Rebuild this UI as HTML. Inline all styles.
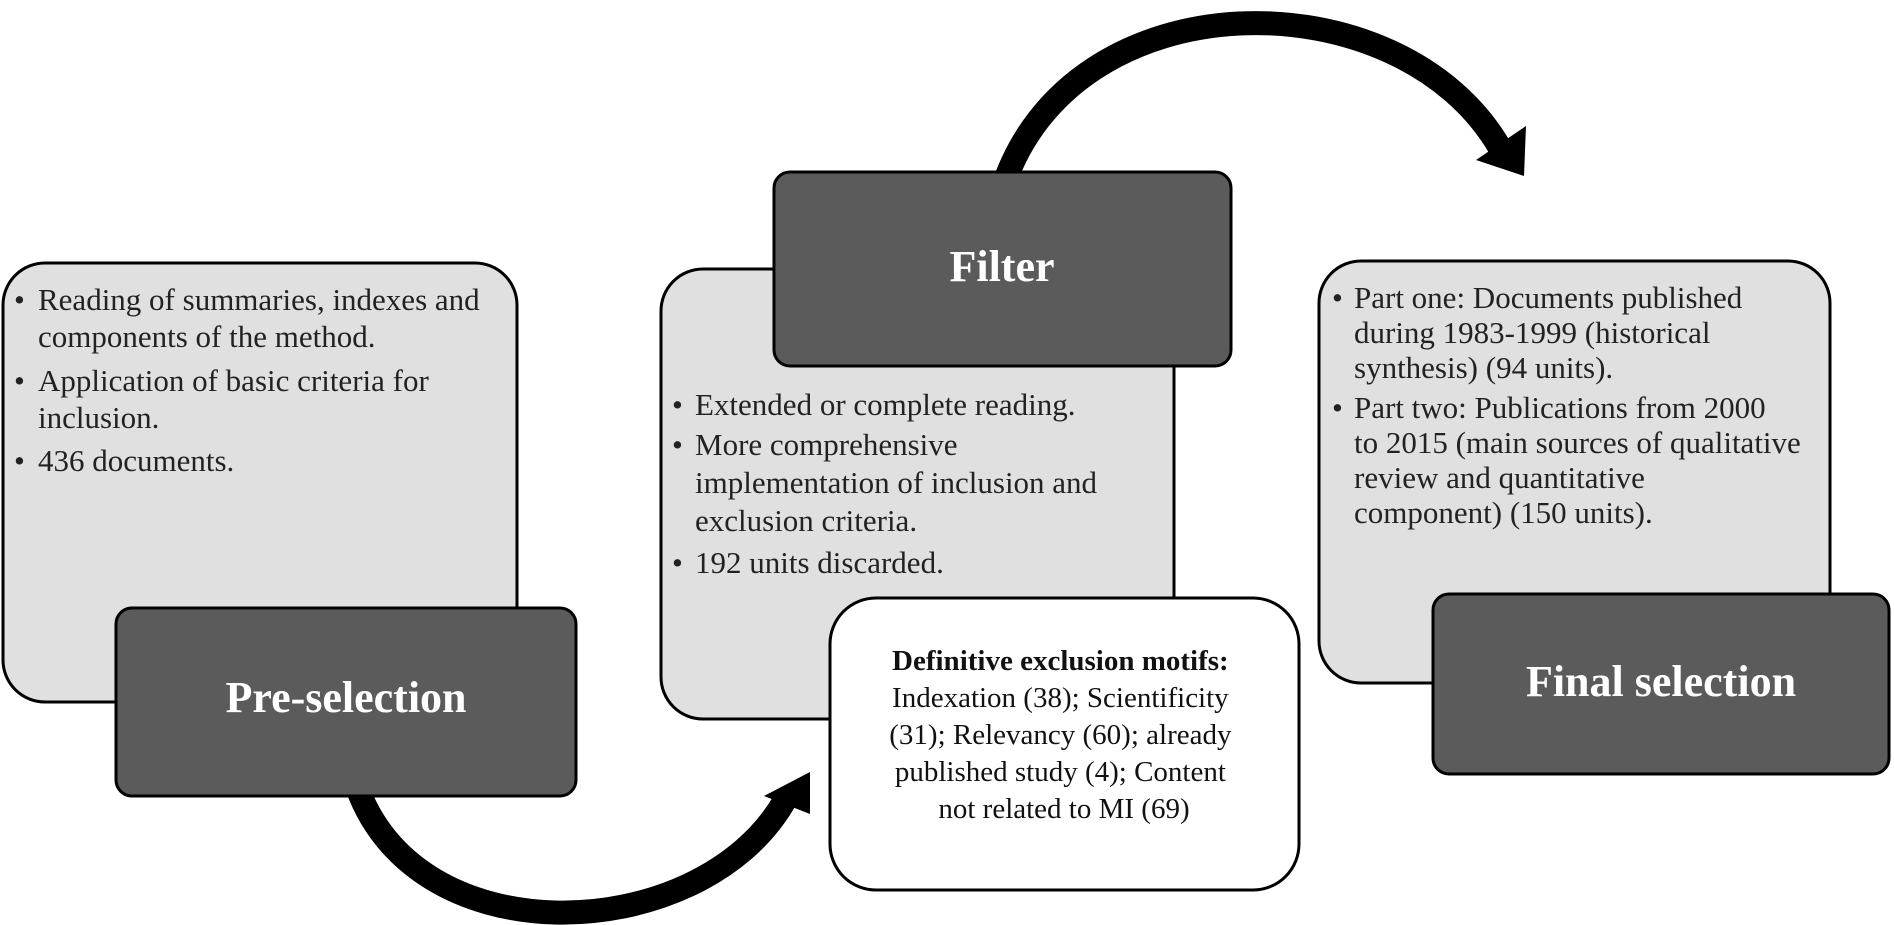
<!DOCTYPE html>
<html><head><meta charset="utf-8"><style>
html,body{margin:0;padding:0;background:#fff;}
svg{display:block;}
text{font-family:"Liberation Serif",serif;}
.t{font-size:31px;fill:#222;}
.h{font-size:44px;font-weight:bold;fill:#fff;}
</style></head><body>
<svg width="1894" height="925" viewBox="0 0 1894 925" xmlns="http://www.w3.org/2000/svg">
<!-- arrows -->
<path d="M1002 190 C1070 -25, 1400 -25, 1500 148" fill="none" stroke="#000" stroke-width="24"/>
<polygon points="1476,160 1526,126 1524,176" fill="#000"/>
<path d="M352 770 C400 960, 700 950, 785 800" fill="none" stroke="#000" stroke-width="24"/>
<polygon points="764,796 810,772 810,814" fill="#000"/>

<!-- left -->
<rect x="3" y="263" width="514" height="439" rx="42" fill="#e0e0e0" stroke="#000" stroke-width="3"/>
<rect x="116" y="608" width="460" height="188" rx="16" fill="#5b5b5b" stroke="#000" stroke-width="3"/>
<text class="t"><tspan x="14" y="310">•</tspan><tspan x="38" y="310">Reading of summaries, indexes and</tspan>
<tspan x="38" y="347">components of the method.</tspan>
<tspan x="14" y="391">•</tspan><tspan x="38" y="391">Application of basic criteria for</tspan>
<tspan x="38" y="428">inclusion.</tspan>
<tspan x="14" y="471">•</tspan><tspan x="38" y="471">436 documents.</tspan></text>
<text class="h" x="346" y="702" text-anchor="middle" dominant-baseline="middle">Pre-selection</text>

<!-- middle -->
<rect x="661" y="269" width="513" height="450" rx="42" fill="#e0e0e0" stroke="#000" stroke-width="3"/>
<rect x="774" y="172" width="457" height="194" rx="16" fill="#5b5b5b" stroke="#000" stroke-width="3"/>
<text class="h" x="1002" y="271" text-anchor="middle" dominant-baseline="middle">Filter</text>
<text class="t"><tspan x="672" y="415">•</tspan><tspan x="695" y="415">Extended or complete reading.</tspan>
<tspan x="672" y="455">•</tspan><tspan x="695" y="455">More comprehensive</tspan>
<tspan x="695" y="493">implementation of inclusion and</tspan>
<tspan x="695" y="531">exclusion criteria.</tspan>
<tspan x="672" y="573">•</tspan><tspan x="695" y="573">192 units discarded.</tspan></text>
<rect x="830" y="598" width="469" height="292" rx="46" fill="#fff" stroke="#000" stroke-width="3"/>
<text class="t" text-anchor="middle" style="font-size:29px;fill:#111">
<tspan x="1064" y="670" font-weight="bold">Definitive exclusion motifs:</tspan>
<tspan x="1064" y="707">Indexation (38); Scientificity</tspan>
<tspan x="1064" y="744">(31); Relevancy (60); already</tspan>
<tspan x="1064" y="781">published study (4); Content</tspan>
<tspan x="1064" y="818">not related to MI (69)</tspan></text>

<!-- right -->
<rect x="1319" y="261" width="511" height="422" rx="42" fill="#e0e0e0" stroke="#000" stroke-width="3"/>
<rect x="1433" y="594" width="456" height="180" rx="16" fill="#5b5b5b" stroke="#000" stroke-width="3"/>
<text class="t"><tspan x="1332" y="308">•</tspan><tspan x="1354" y="308">Part one: Documents published</tspan>
<tspan x="1354" y="343">during 1983-1999 (historical</tspan>
<tspan x="1354" y="378">synthesis) (94 units).</tspan>
<tspan x="1332" y="418">•</tspan><tspan x="1354" y="418">Part two: Publications from 2000</tspan>
<tspan x="1354" y="453">to 2015 (main sources of qualitative</tspan>
<tspan x="1354" y="488">review and quantitative</tspan>
<tspan x="1354" y="523">component) (150 units).</tspan></text>
<text class="h" x="1661" y="686" text-anchor="middle" dominant-baseline="middle">Final selection</text>
</svg>
</body></html>
